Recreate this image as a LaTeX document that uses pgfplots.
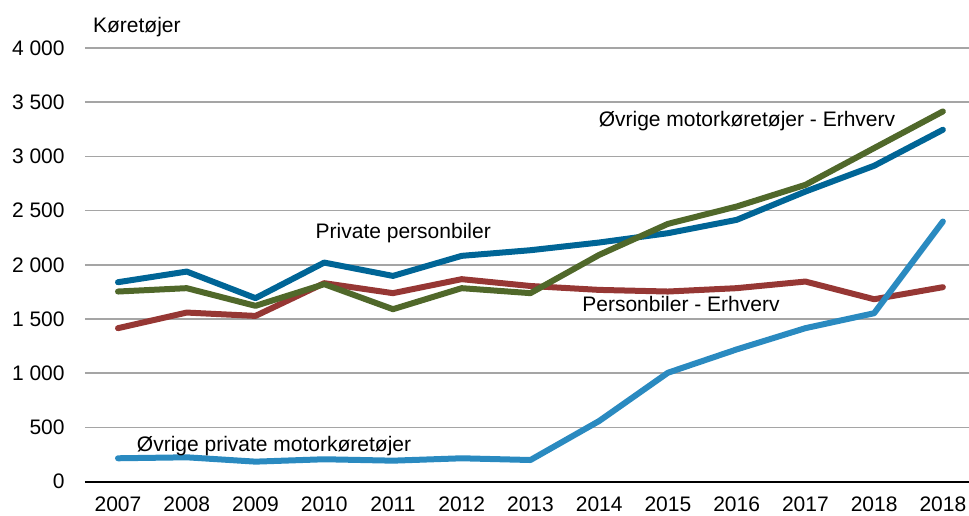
\documentclass[border=0pt]{standalone}
\usepackage{fontspec}
\setmainfont{Liberation Sans}
\usepackage{pgfplots}
\pgfplotsset{compat=1.18}
\definecolor{darkblue}{RGB}{0,101,150}
\definecolor{olive}{RGB}{80,104,42}
\definecolor{brickred}{RGB}{150,55,52}
\definecolor{lightblue}{RGB}{42,138,192}
\definecolor{gridgray}{RGB}{165,165,165}
\begin{document}
\begin{tikzpicture}
\useasboundingbox (-42.5pt,-16.65pt) rectangle (442pt,240.85pt);
\begin{axis}[
  scale only axis,
  width=442pt, height=216.85pt,
  xmin=-0.48, xmax=12.38,
  ymin=0, ymax=4000,
  axis line style={draw=none},
  xtick={0,...,12},
  xticklabels={2007,2008,2009,2010,2011,2012,2013,2014,2015,2016,2017,2018,2018},
  ytick={0,500,1000,1500,2000,2500,3000,3500,4000},
  yticklabels={0,500,1 000,1 500,2 000,2 500,3 000,3 500,4 000},
  major tick length=0pt,
  ymajorgrids,
  grid style={draw=gridgray, line width=0.8pt},
  tick label style={font=\fontsize{10.5pt}{12pt}\selectfont},
  yticklabel style={anchor=east, inner sep=0pt, xshift=-10pt},
  xticklabel style={anchor=north, inner sep=0pt, yshift=-7.6pt},
  clip=false,
  every axis plot/.append style={line width=3pt, line join=round, line cap=round, mark=none},
]
\draw[black, line width=1pt] (axis cs:-0.48,0) -- (axis cs:12.38,0);
% Private personbiler
\addplot[darkblue] coordinates {(0,1840) (1,1938) (2,1693) (3,2021) (4,1898) (5,2083) (6,2135) (7,2206) (8,2292) (9,2415) (10,2676) (11,2914) (12,3246)};
% Personbiler - Erhverv
\addplot[brickred] coordinates {(0,1416) (1,1560) (2,1529) (3,1831) (4,1739) (5,1868) (6,1805) (7,1769) (8,1754) (9,1785) (10,1846) (11,1683) (12,1794)};
% Ovrige motorkoretojer - Erhverv
\addplot[olive] coordinates {(0,1754) (1,1785) (2,1622) (3,1822) (4,1591) (5,1785) (6,1739) (7,2092) (8,2378) (9,2538) (10,2738) (11,3077) (12,3415)};
% Ovrige private motorkoretojer
\addplot[lightblue] coordinates {(0,216) (1,225) (2,185) (3,207) (4,194) (5,216) (6,200) (7,560) (8,1005) (9,1220) (10,1416) (11,1554) (12,2400)};
\begin{scope}[every node/.style={font=\fontsize{10.5pt}{12pt}\selectfont, inner sep=0pt}]
\node[anchor=base west] at (axis cs:-0.368,4141) {Køretøjer};
\node[anchor=base] at (axis cs:4.15,2246) {Private personbiler};
\node[anchor=base] at (axis cs:9.15,3276) {Øvrige motorkøretøjer - Erhverv};
\node[anchor=base] at (axis cs:8.19,1569) {Personbiler - Erhverv};
\node[anchor=base] at (axis cs:2.27,283) {Øvrige private motorkøretøjer};
\end{scope}
\end{axis}
\end{tikzpicture}
\end{document}
